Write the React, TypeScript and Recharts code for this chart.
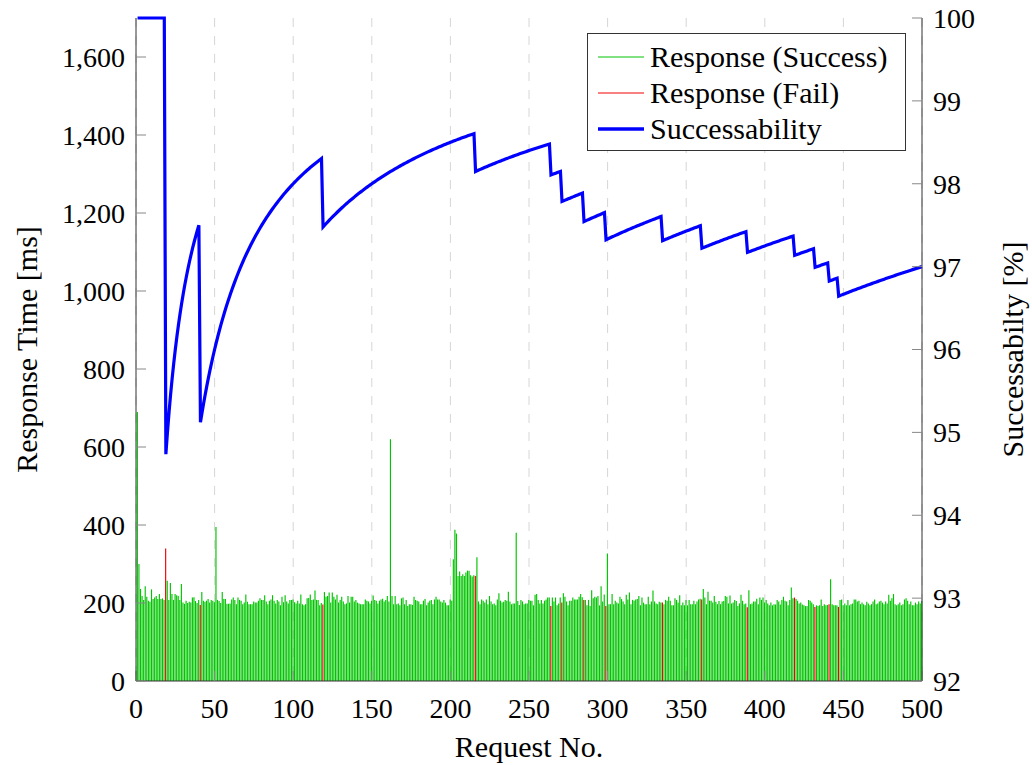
import React from 'react';
import { ComposedChart, Bar, Line, XAxis, YAxis, CartesianGrid, Cell } from 'recharts';

document.body.style.margin = '0';

const FONT = "'Liberation Serif', 'Times New Roman', serif";

// response time of each request, in ms (request 1 .. 500)
const responseMs: number[] = [
  690, 300, 236, 218, 208, 243, 216, 206, 203, 235,
  210, 214, 218, 210, 223, 210, 212, 208, 340, 257,
  208, 251, 223, 208, 223, 220, 218, 208, 249, 201,
  198, 206, 200, 203, 201, 214, 215, 205, 200, 208,
  195, 228, 206, 203, 206, 210, 201, 208, 206, 202,
  395, 208, 205, 200, 228, 210, 210, 198, 198, 199,
  209, 214, 208, 197, 214, 208, 206, 197, 201, 222,
  203, 197, 197, 197, 204, 201, 201, 206, 212, 208,
  208, 220, 204, 197, 206, 209, 220, 206, 199, 208,
  204, 194, 216, 202, 220, 204, 199, 208, 208, 209,
  202, 199, 206, 199, 222, 197, 194, 197, 212, 213,
  222, 208, 209, 232, 208, 208, 194, 200, 196, 228,
  216, 218, 227, 201, 227, 216, 209, 221, 201, 208,
  216, 204, 197, 199, 218, 201, 216, 216, 204, 208,
  201, 199, 197, 197, 197, 209, 206, 204, 199, 206,
  219, 208, 206, 199, 206, 209, 211, 204, 208, 218,
  204, 620, 218, 197, 218, 197, 199, 194, 212, 214,
  197, 208, 192, 197, 197, 195, 216, 208, 206, 204,
  197, 197, 206, 210, 194, 201, 206, 208, 197, 209,
  216, 209, 209, 204, 201, 208, 201, 194, 194, 209,
  206, 312, 388, 378, 269, 281, 269, 274, 269, 278,
  283, 283, 271, 268, 271, 269, 317, 204, 197, 209,
  206, 201, 209, 197, 218, 204, 197, 199, 194, 209,
  225, 206, 201, 203, 208, 206, 229, 204, 197, 199,
  199, 380, 205, 195, 208, 204, 197, 199, 199, 208,
  206, 206, 194, 221, 223, 208, 199, 208, 199, 206,
  209, 214, 214, 192, 214, 204, 214, 194, 199, 214,
  201, 225, 216, 204, 194, 206, 206, 214, 209, 209,
  209, 216, 223, 215, 208, 208, 194, 208, 192, 233,
  212, 216, 214, 218, 194, 243, 204, 222, 192, 327,
  197, 197, 223, 197, 206, 201, 199, 216, 210, 204,
  197, 221, 209, 227, 197, 208, 206, 209, 210, 218,
  194, 214, 201, 197, 197, 216, 197, 204, 232, 204,
  199, 197, 203, 201, 201, 197, 208, 206, 216, 206,
  194, 194, 212, 208, 201, 220, 194, 201, 194, 208,
  194, 208, 197, 197, 206, 197, 204, 209, 211, 209,
  236, 214, 197, 229, 206, 206, 201, 218, 203, 197,
  205, 197, 204, 205, 218, 216, 199, 219, 199, 201,
  208, 205, 192, 199, 221, 206, 197, 199, 189, 233,
  197, 199, 204, 204, 211, 197, 214, 208, 214, 201,
  208, 199, 194, 201, 194, 197, 196, 208, 204, 196,
  208, 216, 206, 204, 194, 208, 240, 212, 214, 210,
  206, 199, 201, 196, 194, 192, 192, 208, 206, 201,
  197, 190, 194, 192, 194, 209, 192, 197, 194, 195,
  197, 261, 197, 194, 194, 194, 190, 208, 209, 194,
  199, 194, 208, 194, 197, 199, 209, 209, 204, 206,
  197, 201, 197, 194, 203, 199, 194, 197, 204, 209,
  197, 199, 204, 206, 201, 197, 204, 199, 221, 206,
  212, 223, 197, 194, 197, 201, 194, 197, 209, 212,
  206, 197, 204, 194, 194, 201, 197, 204, 199, 205,
];

// request numbers that failed
const failedRequests = [19, 41, 119, 216, 264, 271, 285, 299, 335, 360, 389, 419, 432, 441, 447];

const requestTicks = [0, 50, 100, 150, 200, 250, 300, 350, 400, 450, 500];
const msTicks = [0, 200, 400, 600, 800, 1000, 1200, 1400, 1600];
const rateTicks = [92, 93, 94, 95, 96, 97, 98, 99, 100];

// successability = share of successful requests so far
const failSet = new Set(failedRequests);
let okCount = 0;
const rows = responseMs.map((ms, i) => {
  const req = i + 1;
  const failed = failSet.has(req);
  if (!failed) okCount += 1;
  return { req, ms, failed, rate: (okCount / req) * 100 };
});

const GREEN = '#00c400';
const RED = '#f00000';
const BLUE = '#0000ff';
const AXIS = '#333333';
const TICK = '#888888';

const tickText = { fill: '#000', fontSize: 28, fontFamily: FONT };
const titleStyle = { fontSize: 30, fontFamily: FONT, fill: '#000' };

const legendItems = [
  { name: 'Response (Success)', color: GREEN, width: 1 },
  { name: 'Response (Fail)', color: RED, width: 1 },
  { name: 'Successability', color: BLUE, width: 3.5 },
];

const LegendBox: React.FC = () => (
  <div
    style={{
      position: 'absolute',
      left: 587,
      top: 33,
      width: 319,
      height: 118,
      border: `1px solid ${AXIS}`,
      background: '#fff',
      fontFamily: FONT,
      fontSize: 30,
      paddingTop: 5,
      boxSizing: 'border-box',
    }}
  >
    {legendItems.map((item) => (
      <div key={item.name} style={{ display: 'flex', alignItems: 'center', height: 36 }}>
        <svg width={62} height={10} style={{ flex: 'none' }}>
          <line x1={10} x2={56} y1={5} y2={5} stroke={item.color} strokeWidth={item.width} />
        </svg>
        <span style={{ lineHeight: '36px', whiteSpace: 'nowrap' }}>{item.name}</span>
      </div>
    ))}
  </div>
);

const App: React.FC = () => (
  <div style={{ position: 'relative', width: 1032, height: 765, background: '#fff' }}>
    <ComposedChart
      width={1032}
      height={765}
      data={rows}
      margin={{ top: 18, right: 0, bottom: 0, left: 0 }}
      barCategoryGap={0}
    >
      <CartesianGrid
        yAxisId="left"
        horizontal={false}
        stroke="#d6d6d6"
        strokeDasharray="9 9"
      />
      <XAxis
        dataKey="req"
        type="number"
        domain={[0, 500]}
        ticks={requestTicks}
        interval={0}
        height={84}
        axisLine={{ stroke: AXIS }}
        tickLine={{ stroke: TICK }}
        tickSize={-10}
        tickMargin={27}
        tick={tickText}
        label={{ value: 'Request No.', position: 'insideBottom', offset: 8, ...titleStyle }}
      />
      <XAxis
        xAxisId="top"
        orientation="top"
        type="number"
        domain={[0, 500]}
        ticks={requestTicks}
        interval={0}
        height={0}
        axisLine={{ stroke: AXIS }}
        tickLine={{ stroke: TICK }}
        tickSize={-10}
        tick={false}
      />
      <YAxis
        yAxisId="left"
        type="number"
        domain={[0, 1700]}
        ticks={msTicks}
        interval={0}
        width={136}
        axisLine={{ stroke: AXIS }}
        tickLine={{ stroke: TICK }}
        tickSize={-10}
        tickMargin={21}
        tick={tickText}
        tickFormatter={(v: number) => v.toLocaleString('en-US')}
        label={{
          value: 'Response Time [ms]',
          angle: -90,
          position: 'insideLeft',
          offset: 26,
          style: { textAnchor: 'middle' },
          ...titleStyle,
        }}
      />
      <YAxis
        yAxisId="right"
        orientation="right"
        type="number"
        domain={[92, 100]}
        ticks={rateTicks}
        interval={0}
        width={110}
        axisLine={{ stroke: AXIS }}
        tickLine={{ stroke: TICK }}
        tickSize={-10}
        tickMargin={21}
        tick={tickText}
        label={{
          value: 'Successabilty [%]',
          angle: -90,
          position: 'insideRight',
          offset: 20,
          style: { textAnchor: 'middle' },
          ...titleStyle,
        }}
      />
      <Bar dataKey="ms" yAxisId="left" barSize={1.15} isAnimationActive={false}>
        {rows.map((r) => (
          <Cell key={r.req} fill={r.failed ? RED : GREEN} />
        ))}
      </Bar>
      <Line
        dataKey="rate"
        yAxisId="right"
        type="linear"
        stroke={BLUE}
        strokeWidth={3.2}
        dot={false}
        activeDot={false}
        isAnimationActive={false}
      />
    </ComposedChart>
    <LegendBox />
  </div>
);

export default App;
